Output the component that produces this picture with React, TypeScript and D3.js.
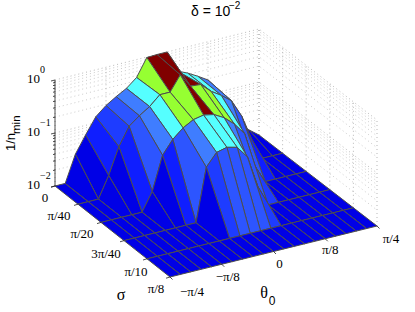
import React, { useEffect, useRef } from 'react';
import * as d3 from 'd3';

// 1/n_min, one list per sigma value, each running over theta0 from -pi/4 to pi/4
const row0 = [0.01, 0.01, 0.032, 0.066, 0.13, 0.19, 0.25, 0.32, 0.46, 0.98, 1, 1, 0.39, 0.32, 0.25, 0.19, 0.089, 0.045, 0.02, 0.014, 0.01];
const row1 = [0.01, 0.01, 0.01, 0.025, 0.078, 0.17, 0.24, 0.32, 0.48, 0.48, 0.91, 0.5, 0.48, 0.32, 0.24, 0.17, 0.078, 0.025, 0.01, 0.01, 0.01];
const row2 = [0.01, 0.01, 0.01, 0.01, 0.01, 0.022, 0.095, 0.17, 0.25, 0.32, 0.35, 0.32, 0.25, 0.17, 0.1, 0.022, 0.01, 0.01, 0.01, 0.01, 0.01];
const row3 = [0.01, 0.01, 0.01, 0.01, 0.01, 0.01, 0.01, 0.01, 0.1, 0.17, 0.19, 0.17, 0.1, 0.025, 0.01, 0.01, 0.01, 0.01, 0.01, 0.01, 0.01];
const row4 = [0.01, 0.01, 0.01, 0.01, 0.01, 0.01, 0.01, 0.01, 0.01, 0.01, 0.01, 0.01, 0.01, 0.01, 0.01, 0.01, 0.01, 0.01, 0.01, 0.01, 0.01];
const row5 = [0.01, 0.01, 0.01, 0.01, 0.01, 0.01, 0.01, 0.01, 0.01, 0.01, 0.01, 0.01, 0.01, 0.01, 0.01, 0.01, 0.01, 0.01, 0.01, 0.01, 0.01];
const rows = [row0, row1, row2, row3, row4, row5];

const sigmaTicks = ['0', 'π/40', 'π/20', '3π/40', 'π/10', 'π/8'];
const thetaTicks = ['−π/4', '−π/8', '0', 'π/8', 'π/4'];
const zTicks = [0.01, 0.1, 1];

const colorBreaks = [0.05, 0.1, 0.15, 0.21, 0.29, 0.4, 0.75];
const colorBands = ['#0000e6', '#0f1eff', '#1e3cff', '#2d55ff', '#3f7dff', '#55ffff', '#96ff32', '#800000'];

const App = () => {
  const svgRef = useRef<SVGSVGElement>(null);

  useEffect(() => {
    const svg = d3.select(svgRef.current);
    svg.selectAll('*').remove();

    const nCols = row0.length - 1;
    const nRows = rows.length - 1;

    // floor corners on screen
    const left = [55, 186];
    const front = [170, 277];
    const right = [377, 226];
    const back = [259, 135];

    const u = d3.scaleLinear().domain([0, nCols]).range([0, 1]); // theta index
    const v = d3.scaleLinear().domain([0, nRows]).range([0, 1]); // sigma index
    const zScale = d3.scaleLog().domain([0.01, 1]).range([0, 106]);
    const color = d3.scaleThreshold<number, string>().domain(colorBreaks).range(colorBands);

    const project = (s: number, t: number, z: number): [number, number] => {
      const x = (1 - s) * ((1 - t) * left[0] + t * back[0]) + s * ((1 - t) * front[0] + t * right[0]);
      const y = (1 - s) * ((1 - t) * left[1] + t * back[1]) + s * ((1 - t) * front[1] + t * right[1]);
      return [x, y - zScale(z)];
    };
    const line = d3.line();

    // back walls
    const grid = svg.append('g').attr('fill', 'none').attr('stroke-width', 0.7);
    const zGrid = zScale.ticks();
    zGrid.forEach(z => {
      grid.append('path')
        .attr('d', line([project(0, 0, z), project(0, 1, z), project(1, 1, z)]))
        .attr('stroke', zTicks.includes(z) ? '#999' : '#b4b4b4')
        .attr('stroke-dasharray', '1 3');
    });
    thetaTicks.forEach((_, i) => {
      const t = i / (thetaTicks.length - 1);
      grid.append('path')
        .attr('d', line([project(0, t, 0.01), project(0, t, 1)]))
        .attr('stroke', '#999')
        .attr('stroke-dasharray', '1 3');
    });
    sigmaTicks.forEach((_, i) => {
      const s = i / (sigmaTicks.length - 1);
      grid.append('path')
        .attr('d', line([project(s, 1, 0.01), project(s, 1, 1)]))
        .attr('stroke', '#999')
        .attr('stroke-dasharray', '1 3');
    });

    // surface, painted from the back corner forward
    const surface = svg.append('g').attr('stroke', '#4d4d4d').attr('stroke-width', 1).attr('stroke-linejoin', 'round');
    for (let i = 0; i < nRows; i++) {
      for (let j = nCols - 1; j >= 0; j--) {
        const corners = [
          project(v(i), u(j), rows[i][j]),
          project(v(i), u(j + 1), rows[i][j + 1]),
          project(v(i + 1), u(j + 1), rows[i + 1][j + 1]),
          project(v(i + 1), u(j), rows[i + 1][j]),
        ];
        surface.append('path')
          .attr('d', line(corners) + 'Z')
          .attr('fill', color(rows[i][j]));
      }
    }

    // axes
    const axes = svg.append('g').attr('stroke', '#222').attr('stroke-width', 0.8).attr('fill', 'none');
    axes.append('path').attr('d', line([project(0, 0, 0.01), project(0, 0, 1)]));
    zGrid.forEach(z => {
      const p = project(0, 0, z);
      const len = zTicks.includes(z) ? 4 : 2;
      axes.append('path').attr('d', line([p, [p[0] - len, p[1] + len * 0.25]]));
    });
    sigmaTicks.forEach((_, i) => {
      const p = project(i / (sigmaTicks.length - 1), 0, 0.01);
      axes.append('path').attr('d', line([p, [p[0] - 4, p[1] + 1.2]]));
    });
    thetaTicks.forEach((_, i) => {
      const p = project(1, i / (thetaTicks.length - 1), 0.01);
      axes.append('path').attr('d', line([p, [p[0] + 2.5, p[1] + 2.5]]));
    });

    // text
    const serif = '"Liberation Serif", serif';
    const sans = '"Liberation Sans", sans-serif';
    const label = (x: number, y: number, txt: string, size: number, font: string, anchor = 'middle') =>
      svg.append('text')
        .attr('x', x).attr('y', y)
        .attr('font-family', font).attr('font-size', size)
        .attr('text-anchor', anchor).attr('fill', '#000')
        .text(txt);

    const sigmaOffsets = [[-10, 16], [-19, 16], [-19, 16], [-18, 17], [-11, 17], [-14, 16]];
    sigmaTicks.forEach((txt, i) => {
      const p = project(i / (sigmaTicks.length - 1), 0, 0.01);
      label(p[0] + sigmaOffsets[i][0], p[1] + sigmaOffsets[i][1], txt, 13, serif);
    });
    const thetaOffsets = [[22, 19], [6, 17], [6, 16], [5, 15], [14, 17]];
    thetaTicks.forEach((txt, i) => {
      const p = project(1, i / (thetaTicks.length - 1), 0.01);
      label(p[0] + thetaOffsets[i][0], p[1] + thetaOffsets[i][1], txt, 13, serif);
    });

    const zExp = ['−2', '−1', '0'];
    zTicks.forEach((z, i) => {
      const p = project(0, 0, z);
      label(27, p[1] + 2.5, '10', 13, serif, 'start');
      label(40, p[1] - 7.5, zExp[i], 10, serif, 'start');
    });

    label(191, 16, 'δ = 10', 14, sans, 'start');
    label(229, 9, '−2', 10, sans, 'start');
    label(121, 300, 'σ', 16, serif);
    label(264, 298, 'θ', 16, serif);
    label(272, 305, '0', 12, sans);

    svg.append('text')
      .attr('transform', 'translate(15,151) rotate(-90)')
      .attr('font-family', sans).attr('font-size', 13).attr('fill', '#000')
      .text('1/n');
    svg.append('text')
      .attr('transform', 'translate(20,134) rotate(-90)')
      .attr('font-family', sans).attr('font-size', 11.5).attr('fill', '#000')
      .text('min');
  }, []);

  return (
    <svg ref={svgRef} width="415" height="312" style={{ position: 'absolute', left: 0, top: 0, background: '#fff' }}></svg>
  );
};

export default App;
